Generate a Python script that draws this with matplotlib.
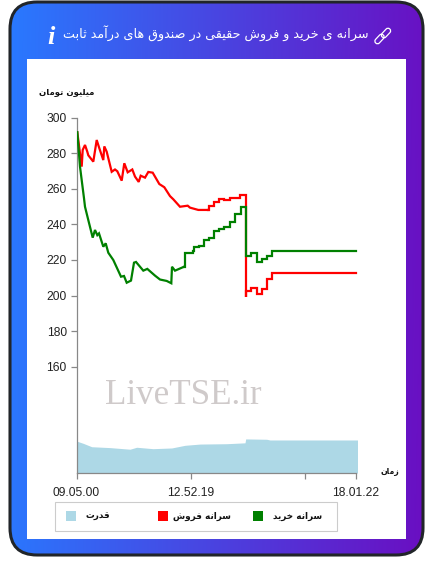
import numpy as np
import matplotlib
matplotlib.use("Agg")
import matplotlib.pyplot as plt
from matplotlib.patches import FancyBboxPatch, Rectangle
from matplotlib.colors import LinearSegmentedColormap
from matplotlib.transforms import Affine2D

W, H = 433, 574

# ---------- data ----------
sell_x = [0.8, 5.2, 6.2, 8.5, 10.8, 11.8, 16.8, 20.2, 22.8, 26.8, 27.8, 30.2, 35.2, 38.5, 40.8, 45.2,
          47.8, 51.2, 55.8, 58.5, 62.2, 64.2, 68.5, 71.8, 76.2, 82.8, 87.8, 93.5, 96.8, 103.5, 111.2,
          113.5, 121.8, 131.8]
sell_y = [292, 272.6, 282, 284.8, 281, 279, 275.4, 287.6, 283, 276.3, 284, 281, 269.7, 271, 270, 264.7,
          274.5, 269.4, 271, 267, 264, 267.5, 266.4, 269.6, 269.2, 262.8, 261, 256, 254.2, 250, 250.6,
          249.5, 248.2, 248.2]
sell_step_x = [131.8, 132.5, 137.5, 142.5, 147.8, 153.5, 163.5, 169.2, 169.3, 174.5, 180.2, 185.5, 190.2, 195.5, 279.2]
sell_step_y = [248.2, 250.6, 252.5, 254.2, 253.8, 255, 256.4, 199.3, 202.5, 204.4, 200.8, 203.5, 209.3, 212.7, 212.7]

buy_x = [0.8, 3.5, 5.2, 7.5, 8.5, 11.8, 16.2, 18.5, 20.8, 22.5, 26.8, 29.2, 31.8, 36.8, 44.5, 47.5, 50.2,
         54.5, 57.5, 59.5, 66.8, 70.8, 78.5, 83.5, 90.2, 94.8, 95.5, 98.5, 101.8, 107.5]
buy_y = [292, 272.6, 265, 254.8, 250, 242.5, 232.6, 236.9, 234, 235, 227.5, 229.4, 224.1, 220, 210.6, 211,
         207.2, 208.4, 218.5, 218.9, 214, 215, 211.2, 209, 208.2, 206.9, 216.2, 214, 214.8, 216.2]
buy_step_x = [107.5, 108.2, 116.2, 117.5, 122.8, 127.5, 132.8, 137.5, 142.5, 147.8, 153.5, 158.5, 164.2, 169.2,
              174.8, 180.2, 185.5, 190.2, 195.5, 279.2]
buy_step_y = [216.2, 224.1, 225.2, 227.2, 228, 231, 232.4, 236.3, 237.6, 238.8, 241.4, 245.9, 249.7, 222.3,
              223.8, 218.7, 220.6, 222, 225, 225]

power_x = [0, 6.8, 15.2, 33.5, 53.5, 60.2, 76.5, 95.2, 108.5, 123.5, 150.2, 168.5, 169.2, 190.2, 193.5, 281]
power_y = [118, 116.7, 114.8, 114.3, 113.4, 114.5, 113.7, 114.1, 115.6, 116.3, 116.5, 117, 119.2, 119, 118.6, 118.6]

y_ticks = [160, 180, 200, 220, 240, 260, 280, 300]
x_ticks = [0, 114, 228, 279.5]
x_labels = ["09.05.00", "12.52.19", "", "18.01.22"]

title = "سرانه ی خرید و فروش حقیقی در صندوق های درآمد ثابت"
y_title = "میلیون تومان"
x_title = "زمان"
legend_labels = ["قدرت", "سرانه فروش", "سرانه خرید"]
legend_colors = ["lightblue", "red", "green"]

# ---------- Persian shaping (matplotlib has no shaping engine) ----------
FORMS = {  # isolated, final, initial, medial
    'ا': (0xFE8D, 0xFE8E), 'آ': (0xFE81, 0xFE82), 'د': (0xFEA9, 0xFEAA), 'ر': (0xFEAD, 0xFEAE),
    'ز': (0xFEAF, 0xFEB0), 'و': (0xFEED, 0xFEEE),
    'ب': (0xFE8F, 0xFE90, 0xFE91, 0xFE92), 'ت': (0xFE95, 0xFE96, 0xFE97, 0xFE98),
    'ث': (0xFE99, 0xFE9A, 0xFE9B, 0xFE9C), 'ح': (0xFEA1, 0xFEA2, 0xFEA3, 0xFEA4),
    'خ': (0xFEA5, 0xFEA6, 0xFEA7, 0xFEA8), 'س': (0xFEB1, 0xFEB2, 0xFEB3, 0xFEB4),
    'ش': (0xFEB5, 0xFEB6, 0xFEB7, 0xFEB8), 'ص': (0xFEB9, 0xFEBA, 0xFEBB, 0xFEBC),
    'ف': (0xFED1, 0xFED2, 0xFED3, 0xFED4), 'ق': (0xFED5, 0xFED6, 0xFED7, 0xFED8),
    'ل': (0xFEDD, 0xFEDE, 0xFEDF, 0xFEE0), 'م': (0xFEE1, 0xFEE2, 0xFEE3, 0xFEE4),
    'ن': (0xFEE5, 0xFEE6, 0xFEE7, 0xFEE8), 'ه': (0xFEE9, 0xFEEA, 0xFEEB, 0xFEEC),
    'ی': (0xFBFC, 0xFBFD, 0xFBFE, 0xFBFF),
}

def shape(s):
    out = []
    for i, c in enumerate(s):
        if c not in FORMS:
            out.append(c)
            continue
        f = FORMS[c]
        prev = s[i - 1] if i else ' '
        nxt = s[i + 1] if i + 1 < len(s) else ' '
        join_prev = prev in FORMS and len(FORMS[prev]) == 4
        join_next = nxt in FORMS and len(f) == 4
        if join_prev and join_next:
            code = f[3]
        elif join_prev:
            code = f[1]
        elif join_next:
            code = f[2]
        else:
            code = f[0]
        out.append(chr(code))
    return "".join(reversed(out))

# ---------- figure ----------
fig = plt.figure(figsize=(W / 100, H / 100), dpi=100)
fig.patch.set_facecolor("white")

bg = fig.add_axes([0, 0, 1, 1], zorder=0)
bg.set_xlim(0, W)
bg.set_ylim(H, 0)
bg.axis("off")

cmap = LinearSegmentedColormap.from_list("card", ["#2979ff", "#6a0fc2"])
xx, yy = np.meshgrid(np.linspace(0, 1, 300), np.linspace(0, 1, 300))
grad = bg.imshow(xx * 0.97 + yy * 0.03, extent=(10, 423, 555, 2), cmap=cmap, aspect="auto", zorder=1)
card = FancyBboxPatch((10, 2), 413, 553, boxstyle="round,pad=0,rounding_size=27",
                      fc="none", ec="#212529", lw=2.2, zorder=3)
bg.add_patch(card)
grad.set_clip_path(card)
bg.set_xlim(0, W)
bg.set_ylim(H, 0)
bg.add_patch(Rectangle((27, 59), 379, 480, fc="white", ec="none", zorder=2))

# header text and icons
bg.text(369, 33.5, shape(title), color="white", fontsize=9.15, ha="right", va="center",
        family="DejaVu Sans", zorder=4)
bg.text(51, 37, "i", color="white", fontsize=19, ha="center", va="center", family="Liberation Serif",
        style="italic", weight="bold", zorder=4)
for cx, cy in [(379.5, 39), (386, 33)]:
    link = FancyBboxPatch((cx - 5.5, cy - 2.6), 11, 5.2, boxstyle="round,pad=0,rounding_size=2.6",
                          fc="none", ec="white", lw=0.9, zorder=4,
                          transform=Affine2D().rotate_deg_around(cx, cy, -47) + bg.transData)
    bg.add_patch(link)

# chart
ax = fig.add_axes([76.5 / W, 1 - 473 / H, 281 / W, 355 / H], zorder=5)
ax.patch.set_alpha(0)
ax.set_xlim(0, 281)
ax.set_ylim(100, 300)
ax.fill_between(power_x, 100, power_y, color="lightblue", lw=0, zorder=1)
LW = 1.6
ax.plot(sell_x, sell_y, color="red", lw=LW, zorder=2, solid_joinstyle="miter")
ax.plot(sell_step_x, sell_step_y, color="red", lw=LW, drawstyle="steps-post", zorder=2, solid_joinstyle="miter")
ax.plot(buy_x, buy_y, color="green", lw=LW, zorder=3, solid_joinstyle="miter")
ax.plot(buy_step_x, buy_step_y, color="green", lw=LW, drawstyle="steps-post", zorder=3, solid_joinstyle="miter")

for s in ("top", "right"):
    ax.spines[s].set_visible(False)
for s in ("left", "bottom"):
    ax.spines[s].set_color("#888888")
    ax.spines[s].set_linewidth(0.9)
ax.spines["bottom"].set_bounds(0, 279.5)
ax.set_yticks(y_ticks)
ax.set_xticks(x_ticks)
ax.set_xticklabels(x_labels)
ax.tick_params(axis="both", length=4, width=0.9, color="#888888", labelsize=8.64, labelcolor="#222222",
               pad=3)
ax.tick_params(axis="x", pad=6)
for t in ax.get_xticklabels() + ax.get_yticklabels():
    t.set_family("Liberation Sans")

# axis titles, watermark and legend in pixel coordinates
over = fig.add_axes([0, 0, 1, 1], zorder=6)
over.set_xlim(0, W)
over.set_ylim(H, 0)
over.axis("off")
BOLD = dict(family="DejaVu Sans", weight="bold", color="#111111", va="center")
over.text(94, 92, shape(y_title), ha="right", fontsize=6.1, **BOLD)
over.text(399, 471, shape(x_title), ha="right", fontsize=5.6, **BOLD)
over.text(183.5, 396, "LiveTSE.ir", family="Liberation Serif", fontsize=25.2, color="#cfcaca",
          ha="center", va="center", zorder=1)

over.add_patch(Rectangle((54.5, 501.5), 282, 29, fc="white", ec="#cccccc", lw=0.8))
for label, color, sx, tx in zip(legend_labels, legend_colors, [66, 158, 253], [110, 231, 322]):
    over.add_patch(Rectangle((sx, 511), 10, 10, fc=color, ec="none"))
    over.text(tx, 516, shape(label), ha="right", fontsize=6.4, **BOLD)

fig.savefig("out.png", dpi=100)
